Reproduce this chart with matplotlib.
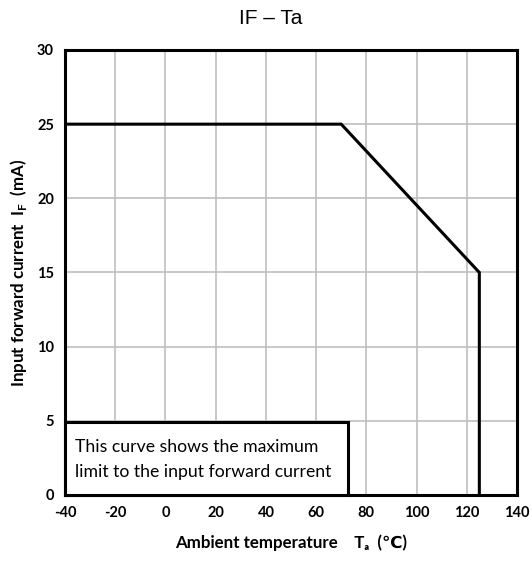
import matplotlib.pyplot as plt
from matplotlib.patches import Rectangle

# derating curve (ambient temperature in C, forward current in mA)
temps = [-40, 70, 125, 125]
currents = [25, 25, 15, 0]

x_ticks = [-40, -20, 0, 20, 40, 60, 80, 100, 120, 140]
y_ticks = [0, 5, 10, 15, 20, 25, 30]

note_lines = ["This curve shows the maximum", "limit to the input forward current"]

plt.rcParams['font.family'] = ['Lato', 'DejaVu Sans']
plt.rcParams['axes.unicode_minus'] = False

fig = plt.figure(figsize=(5.32, 5.63), dpi=100)
ax = fig.add_axes([0.1222, 0.1208, 0.8496, 0.7904])

ax.plot(temps, currents, color='black', linewidth=2.2, zorder=4, solid_joinstyle='miter')

ax.set_xlim(-40, 140)
ax.set_ylim(0, 30)
ax.set_xticks(x_ticks)
ax.set_yticks(y_ticks)
ax.grid(True, color='#bfbfbf', linewidth=1.2)
ax.tick_params(length=0, pad=8, labelsize=10.5)
for lbl in ax.get_xticklabels() + ax.get_yticklabels():
    lbl.set_fontweight('bold')
for sp in ax.spines.values():
    sp.set_linewidth(2.2)

# note box in the lower left corner
box = Rectangle((-40, 0), 112.5, 4.9, facecolor='white', edgecolor='black',
                linewidth=2.2, zorder=5, clip_on=False)
ax.add_patch(box)
ax.text(-36, 2.4, "\n".join(note_lines), fontsize=12.7, va='center', ha='left',
        linespacing=1.65, zorder=6)

fig.text(271 / 532, 1 - 18 / 563, "IF – Ta", fontsize=15, ha='center', va='center',
         family=['Liberation Sans', 'DejaVu Sans'])
ax.set_xlabel("Ambient temperature    Tₐ  (℃)", fontsize=12.2,
              fontweight='bold', labelpad=10,
              family=['Lato', 'DejaVu Sans', 'Noto Sans CJK SC'])
ax.set_ylabel("Input forward current  I$_\\mathregular{F}$  (mA)", fontsize=12.2,
              fontweight='bold', labelpad=6)

fig.savefig('out.png', dpi=100)
